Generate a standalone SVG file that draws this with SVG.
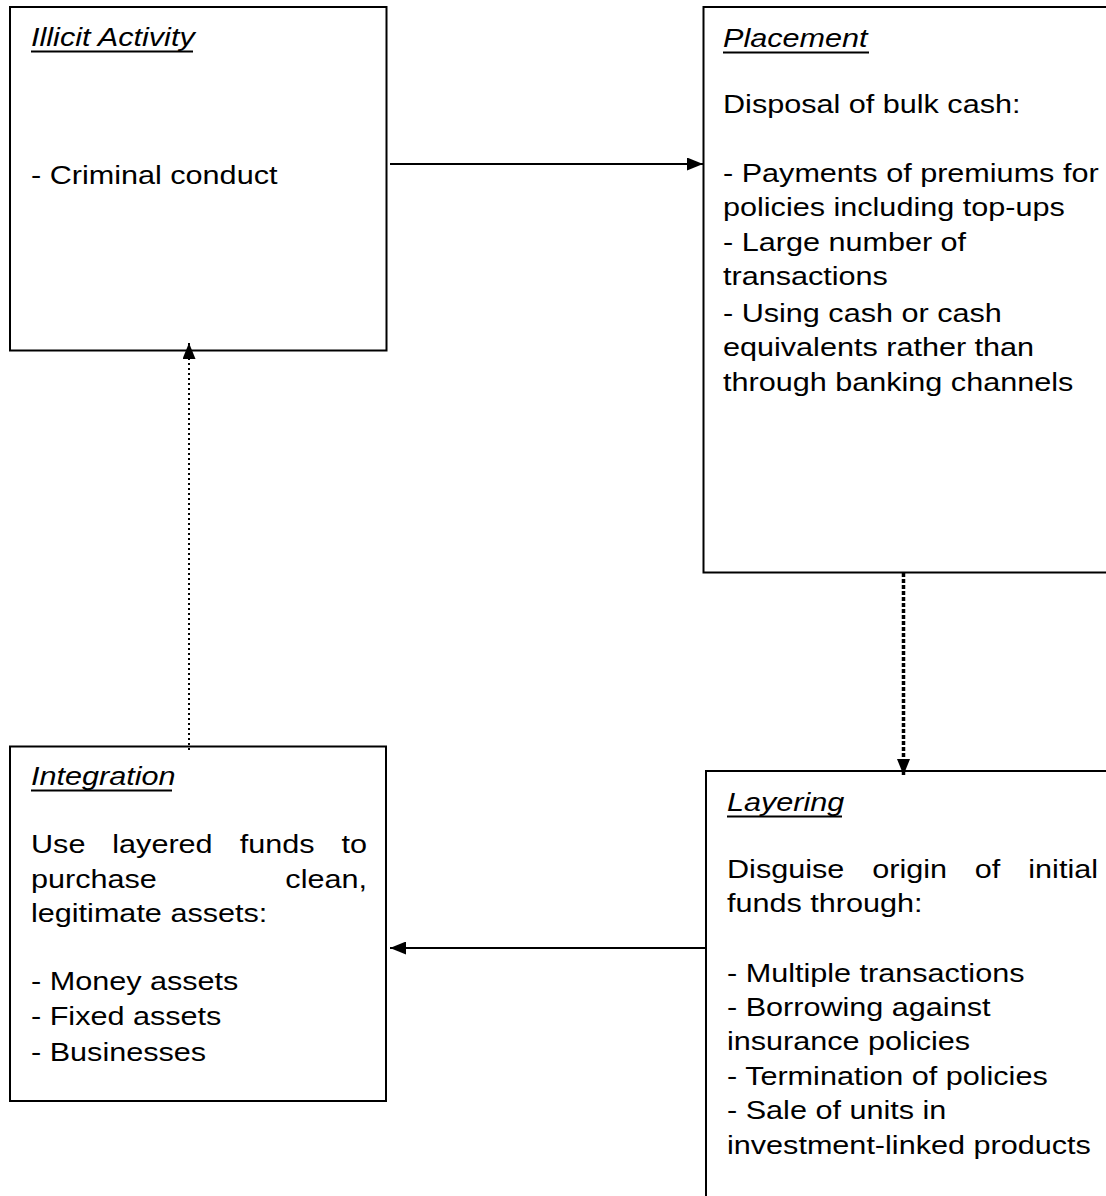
<svg xmlns="http://www.w3.org/2000/svg" width="1106" height="1196" viewBox="0 0 1106 1196">
<style>
.box{fill:#fff;stroke:#000;stroke-width:2}
.t{font-family:"Liberation Sans",Arial,sans-serif;font-size:26px;fill:#000}
.ti{font-style:italic}
.ul{stroke:#000;stroke-width:2}
.solid{stroke:#000;stroke-width:2;fill:none}
.dot{stroke:#000;stroke-width:2;fill:none;stroke-dasharray:2 3}
.dotb{stroke:#000;stroke-width:3.5;fill:none;stroke-dasharray:4 2}
</style>
<defs>
<marker id="ah" viewBox="0 0 16 13" refX="16" refY="6.5" markerWidth="16" markerHeight="13" markerUnits="userSpaceOnUse" orient="auto">
<path d="M0,0 L16,6.5 L0,13 z" fill="#000"/>
</marker>
</defs>
<rect width="1106" height="1196" fill="#fff"/>

<g id="illicit">
<rect class="box" x="10" y="7" width="376.5" height="343.5"/>
<line class="ul" x1="31" y1="51.5" x2="193" y2="51.5"/>
<g class="t" transform="translate(31,0) scale(1.177,1)">
<text class="ti" x="0" y="46">Illicit Activity</text>
<text x="0" y="184">- Criminal conduct</text>
</g>
</g>

<g id="placement">
<rect class="box" x="703.5" y="7" width="430" height="565.5"/>
<line class="ul" x1="723" y1="52.5" x2="869" y2="52.5"/>
<g class="t" transform="translate(723,0) scale(1.177,1)">
<text class="ti" x="0" y="47">Placement</text>
<text x="0" y="113">Disposal of bulk cash:</text>
<text x="0" y="182">- Payments of premiums for</text>
<text x="0" y="216">policies including top-ups</text>
<text x="0" y="251">- Large number of</text>
<text x="0" y="285">transactions</text>
<text x="0" y="322">- Using cash or cash</text>
<text x="0" y="356">equivalents rather than</text>
<text x="0" y="391">through banking channels</text>
</g>
</g>

<g id="layering">
<rect class="box" x="706" y="771" width="430" height="440"/>
<line class="ul" x1="727" y1="816.5" x2="842" y2="816.5"/>
<g class="t" transform="translate(727,0) scale(1.177,1)">
<text class="ti" x="0" y="811">Layering</text>
<text y="878"><tspan x="0">Disguise</tspan><tspan x="123.4">origin</tspan><tspan x="210.6">of</tspan><tspan x="256">initial</tspan></text>
<text x="0" y="912">funds through:</text>
<text x="0" y="982">- Multiple transactions</text>
<text x="0" y="1016">- Borrowing against</text>
<text x="0" y="1050">insurance policies</text>
<text x="0" y="1085">- Termination of policies</text>
<text x="0" y="1119">- Sale of units in</text>
<text x="0" y="1154">investment-linked products</text>
</g>
</g>

<g id="integration">
<rect class="box" x="10" y="746.5" width="376" height="354.5"/>
<line class="ul" x1="31" y1="790.5" x2="172" y2="790.5"/>
<g class="t" transform="translate(31,0) scale(1.177,1)">
<text class="ti" x="0" y="785">Integration</text>
<text y="853"><tspan x="0">Use</tspan><tspan x="69.1">layered</tspan><tspan x="177.3">funds</tspan><tspan x="263.8">to</tspan></text>
<text y="888"><tspan x="0">purchase</tspan><tspan x="216.1">clean,</tspan></text>
<text x="0" y="922">legitimate assets:</text>
<text x="0" y="990">- Money assets</text>
<text x="0" y="1025">- Fixed assets</text>
<text x="0" y="1061">- Businesses</text>
</g>
</g>

<g id="connectors">
<line class="solid" x1="390" y1="164" x2="703" y2="164" marker-end="url(#ah)"/>
<line class="dotb" x1="903.5" y1="573" x2="903.5" y2="775" marker-end="url(#ah)"/>
<line class="solid" x1="705" y1="948" x2="390" y2="948" marker-end="url(#ah)"/>
<line class="dot" x1="189" y1="750" x2="189" y2="343" marker-end="url(#ah)"/>
</g>
</svg>
